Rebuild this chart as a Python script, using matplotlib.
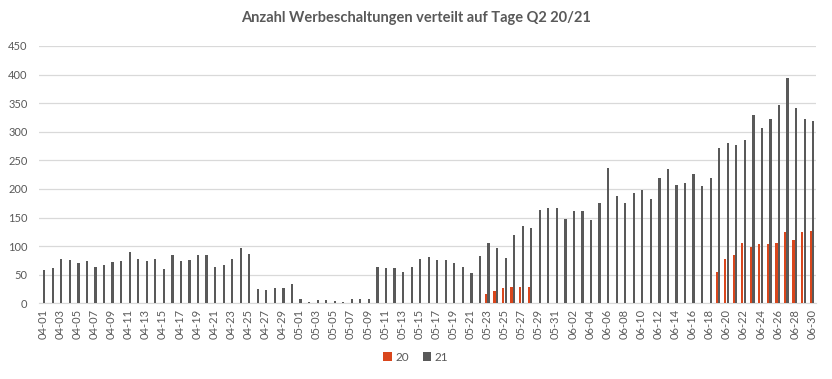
import numpy as np
import pandas as pd
import matplotlib
matplotlib.use("Agg")
import matplotlib.pyplot as plt

plt.rcParams['font.family'] = ['Lato', 'DejaVu Sans']

# days of Q2 (04-01 .. 06-30)
days = pd.date_range("2021-04-01", "2021-06-30").strftime("%m-%d").tolist()

# 2021 values
v21 = [58, 62, 78, 76, 71, 74, 64, 67, 72, 74,
       90, 78, 74, 78, 60, 85, 74, 76, 85, 85,
       64, 67, 78, 96, 87, 25, 23, 27, 26, 33,
       7, 3, 5, 5, 4, 3, 7, 7, 8, 64,
       61, 61, 54, 64, 78, 81, 76, 76, 71, 64,
       53, 82, 105, 96, 80, 119, 135, 131, 163, 166,
       166, 147, 162, 161, 145, 175, 237, 188, 175, 193,
       198, 182, 219, 234, 207, 211, 226, 205, 219, 272,
       281, 276, 286, 330, 306, 323, 346, 394, 341, 323,
       318]

# 2020 values (only from 05-23 on, some days)
v20 = [0] * 91
v20_known = {"05-23": 16, "05-24": 22, "05-25": 27, "05-26": 29, "05-27": 29, "05-28": 29,
             "06-19": 55, "06-20": 78, "06-21": 85, "06-22": 105, "06-23": 98, "06-24": 103,
             "06-25": 103, "06-26": 106, "06-27": 124, "06-28": 110, "06-29": 124, "06-30": 126}
for d, v in v20_known.items():
    v20[days.index(d)] = v

orange = "#D9461C"
grey = "#595959"
txt = "#595959"

fig = plt.figure(figsize=(8.32, 3.79), dpi=100)
ax = fig.add_axes([0.0465, 0.1997, 0.9345, 0.679])

x = np.arange(len(days))
w = 0.26
ax.bar(x - 0.15, v20, width=w, color=orange, label="20", zorder=3)
ax.bar(x + 0.15, v21, width=w, color=grey, label="21", zorder=3)

ax.set_xlim(-0.5, len(days) - 0.5)
ax.set_ylim(0, 450)
ax.set_yticks(range(0, 451, 50))
ax.set_xticks(x[::2])
ax.set_xticklabels(days[::2], rotation=90)
ax.tick_params(axis='both', length=0, labelsize=8, colors=txt)
ax.tick_params(axis='x', pad=4)
ax.tick_params(axis='y', pad=8)

ax.yaxis.grid(True, color="#D9D9D9", linewidth=0.9, zorder=0)
for s in ["top", "right", "left"]:
    ax.spines[s].set_visible(False)
ax.spines["bottom"].set_color("#D9D9D9")

fig.text(0.5, 0.952, "Anzahl Werbeschaltungen verteilt auf Tage Q2 20/21",
         ha="center", va="center", fontsize=10.5, fontweight="bold", color=txt)

fig.legend(loc="center", bbox_to_anchor=(0.5, 0.058), ncol=2, frameon=False,
           fontsize=8.5, handlelength=0.7, handleheight=0.7, handletextpad=0.3,
           columnspacing=1.2, labelcolor=txt)

fig.savefig("out.png", dpi=100, facecolor="white")
